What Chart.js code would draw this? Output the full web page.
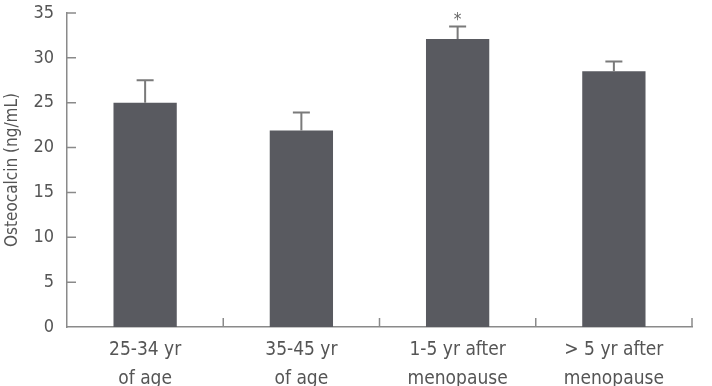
<!DOCTYPE html>
<html>
<head>
<meta charset="utf-8">
<script src="https://cdn.jsdelivr.net/npm/chart.js@4.4.1/dist/chart.umd.min.js"></script>
<style>
html,body{margin:0;padding:0;background:#fff;}
#wrap{width:712px;height:386px;position:relative;}
</style>
</head>
<body>
<div id="wrap"><canvas id="c" width="712" height="386"></canvas></div>
<script>
const categories = [["25-34 yr","of age"],["35-45 yr","of age"],["1-5 yr after","menopause"],["> 5 yr after","menopause"]];
const means = [25.0, 21.9, 32.1, 28.5];
const upperErrors = [27.5, 23.9, 33.5, 29.6];
const significance = ["", "", "*", ""];
const yTicks = [0,5,10,15,20,25,30,35];

const FONT = "'Liberation Sans Narrow','DejaVu Sans Condensed','Arial Narrow',sans-serif";
const AXIS = '#8a8a8a';
const TEXT = '#555555';

const overlay = {
  id: 'overlay',
  afterDatasetsDraw(chart) {
    const ctx = chart.ctx;
    const xs = chart.scales.x, ys = chart.scales.y;
    const meta = chart.getDatasetMeta(0);
    ctx.save();
    ctx.strokeStyle = '#7a7a7a';
    ctx.lineWidth = 2;
    meta.data.forEach((bar, i) => {
      const yTop = ys.getPixelForValue(means[i]);
      const yCap = ys.getPixelForValue(upperErrors[i]);
      ctx.beginPath();
      ctx.moveTo(bar.x, yTop);
      ctx.lineTo(bar.x, yCap);
      ctx.moveTo(bar.x - 8.5, yCap);
      ctx.lineTo(bar.x + 8.5, yCap);
      ctx.stroke();
      if (significance[i]) {
        ctx.fillStyle = '#666';
        ctx.font = "17px " + FONT;
        ctx.textAlign = 'center';
        ctx.textBaseline = 'middle';
        ctx.fillText(significance[i], bar.x, yCap - 6);
      }
    });
    ctx.strokeStyle = AXIS;
    ctx.lineWidth = 1.5;
    const bottom = chart.chartArea.bottom, left = chart.chartArea.left;
    ctx.beginPath();
    for (let i = 0; i < categories.length; i++) {
      const px = xs.getPixelForValue(i + 0.5);
      ctx.moveTo(px, bottom);
      ctx.lineTo(px, bottom - 9);
    }
    yTicks.forEach(v => {
      if (v === 0) return;
      const py = ys.getPixelForValue(v);
      ctx.moveTo(left, py);
      ctx.lineTo(left + 9, py);
    });
    ctx.stroke();
    ctx.restore();
  }
};

new Chart(document.getElementById('c'), {
  type: 'bar',
  data: {
    labels: categories,
    datasets: [{
      data: means,
      backgroundColor: '#595a60',
      borderWidth: 0,
      categoryPercentage: 1.0,
      barPercentage: 0.405
    }]
  },
  options: {
    responsive: false,
    animation: false,
    devicePixelRatio: 1,
    layout: { padding: { top: 13, right: 20, left: 0, bottom: 0 } },
    plugins: { legend: { display: false }, tooltip: { enabled: false } },
    scales: {
      x: {
        grid: { display: false, drawTicks: false },
        border: { display: true, color: AXIS, width: 1.5 },
        ticks: { color: TEXT, font: { family: FONT, size: 19, lineHeight: 1.55 }, padding: 8, maxRotation: 0, autoSkip: false },
        afterFit(s) { s.height = 59; s.paddingLeft = 0; s.paddingRight = 0; s.paddingTop = 0; s.paddingBottom = 0; }
      },
      y: {
        min: 0, max: 35,
        afterBuildTicks(s) { s.ticks = yTicks.map(v => ({ value: v })); },
        grid: { display: false, drawTicks: false },
        border: { display: true, color: AXIS, width: 1.5 },
        ticks: { color: TEXT, font: { family: FONT, size: 18 }, padding: 13 },
        title: { display: true, text: 'Osteocalcin (ng/mL)', color: TEXT, font: { family: FONT, size: 17 }, padding: { top: 2, bottom: 0 } },
        afterFit(s) { s.width = 67; s.paddingTop = 0; s.paddingBottom = 0; s.paddingLeft = 0; s.paddingRight = 0; }
      }
    }
  },
  plugins: [overlay]
});
</script>
</body>
</html>
